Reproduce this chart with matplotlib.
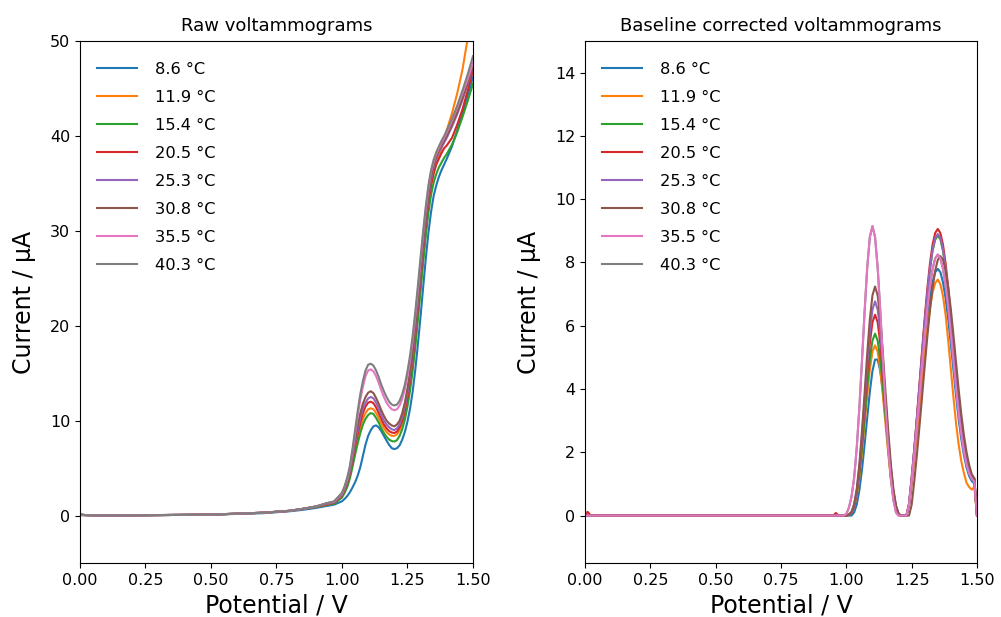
import matplotlib
matplotlib.use("Agg")
import matplotlib.pyplot as plt

# ---- data ----
temps = ["8.6 °C", "11.9 °C", "15.4 °C", "20.5 °C", "25.3 °C", "30.8 °C", "35.5 °C", "40.3 °C"]
colors = ["#1f77b4", "#ff7f0e", "#2ca02c", "#d62728", "#9467bd", "#8c564b", "#e377c2", "#7f7f7f"]

# raw voltammograms, potential in V, current in uA
pot_raw = [0.00, 0.02, 0.10, 0.30, 0.50, 0.70, 0.80, 0.85, 0.90, 0.94, 0.97,
           1.00, 1.01, 1.02, 1.03, 1.04, 1.05, 1.06, 1.07, 1.08, 1.09,
           1.10, 1.11, 1.12, 1.13, 1.14, 1.15, 1.16, 1.17, 1.18, 1.19,
           1.20, 1.21, 1.22, 1.23, 1.24, 1.25, 1.26, 1.27, 1.28, 1.29,
           1.30, 1.31, 1.32, 1.33, 1.34, 1.35, 1.36, 1.37, 1.38, 1.39,
           1.40, 1.42, 1.44, 1.46, 1.48, 1.50]
raw_86 = [0.05, 0.05, 0.0, 0.05, 0.1, 0.25, 0.45, 0.6, 0.8, 1.0, 1.15,
          1.5, 1.75, 2.05, 2.45, 2.95, 3.5, 4.2, 5.1, 6.3, 7.5,
          8.4, 9.0, 9.4, 9.5, 9.3, 8.9, 8.4, 7.9, 7.45, 7.1,
          7.0, 7.1, 7.4, 8.0, 8.8, 9.9, 11.3, 13.1, 15.4, 18.1,
          21.0, 24.1, 27.1, 29.8, 32.0, 33.7, 34.8, 35.7, 36.4, 37.0,
          37.6, 38.9, 40.6, 42.4, 44.3, 46.2]
raw_119 = [0.05, 0.05, 0.05, 0.05, 0.1, 0.3, 0.5, 0.7, 0.9, 1.1, 1.3,
           2.0, 2.5, 3.2, 4.1, 5.4, 6.8, 8.1, 9.3, 10.2, 10.8,
           11.2, 11.3, 11.2, 10.8, 10.3, 9.7, 9.2, 8.8, 8.55, 8.4,
           8.4, 8.55, 9.0, 9.7, 10.7, 12.1, 13.8, 15.9, 18.4, 21.3,
           24.3, 27.3, 30.1, 32.6, 34.6, 36.0, 37.1, 37.9, 38.7, 39.6,
           40.6, 42.4, 44.5, 47.0, 50.3, 53.5]
raw_154 = [0.05, 0.05, 0.0, 0.05, 0.1, 0.3, 0.5, 0.7, 0.9, 1.1, 1.25,
           1.9, 2.4, 3.0, 3.9, 5.1, 6.4, 7.6, 8.7, 9.6, 10.2,
           10.6, 10.8, 10.7, 10.3, 9.8, 9.2, 8.7, 8.3, 8.0, 7.85,
           7.8, 7.95, 8.4, 9.1, 10.1, 11.5, 13.2, 15.3, 17.8, 20.7,
           23.7, 26.7, 29.5, 31.9, 33.8, 35.1, 36.0, 36.7, 37.2, 37.7,
           38.1, 39.1, 40.4, 42.0, 43.7, 45.5]
raw_205 = [0.1, 0.05, 0.0, 0.05, 0.1, 0.3, 0.5, 0.7, 0.95, 1.15, 1.35,
           2.1, 2.7, 3.4, 4.4, 5.8, 7.3, 8.6, 9.8, 10.8, 11.5,
           11.9, 12.0, 11.85, 11.4, 10.8, 10.2, 9.6, 9.2, 8.9, 8.75,
           8.7, 8.85, 9.3, 10.0, 11.1, 12.5, 14.3, 16.5, 19.1, 22.0,
           25.0, 28.0, 30.8, 33.1, 34.9, 36.1, 37.0, 37.6, 38.2, 38.7,
           39.0, 39.8, 41.2, 42.8, 44.8, 46.9]
raw_253 = [0.1, 0.05, 0.0, 0.05, 0.1, 0.3, 0.5, 0.7, 0.95, 1.2, 1.4,
           2.2, 2.8, 3.6, 4.6, 6.1, 7.6, 9.0, 10.3, 11.3, 11.9,
           12.35, 12.5, 12.35, 11.9, 11.3, 10.6, 10.0, 9.6, 9.3, 9.1,
           9.0, 9.2, 9.6, 10.4, 11.5, 13.0, 14.8, 17.0, 19.6, 22.5,
           25.5, 28.5, 31.3, 33.6, 35.4, 36.7, 37.6, 38.3, 38.8, 39.3,
           39.8, 41.0, 42.3, 43.8, 45.5, 47.3]
raw_308 = [0.1, 0.05, 0.0, 0.05, 0.1, 0.3, 0.5, 0.7, 0.95, 1.25, 1.45,
           2.3, 2.9, 3.7, 4.8, 6.4, 8.0, 9.5, 10.8, 11.8, 12.5,
           12.95, 13.1, 12.9, 12.4, 11.8, 11.1, 10.5, 10.0, 9.7, 9.5,
           9.4, 9.6, 10.0, 10.8, 11.9, 13.4, 15.2, 17.4, 20.0, 22.9,
           25.9, 28.9, 31.6, 33.9, 35.7, 36.9, 37.8, 38.5, 39.0, 39.5,
           40.0, 41.2, 42.5, 44.0, 45.6, 47.4]
raw_355 = [0.1, 0.05, 0.0, 0.05, 0.1, 0.3, 0.5, 0.7, 0.95, 1.3, 1.45,
           2.3, 3.0, 3.8, 5.0, 6.7, 8.6, 10.5, 12.2, 13.6, 14.7,
           15.3, 15.4, 15.2, 14.7, 14.0, 13.2, 12.5, 11.9, 11.5, 11.2,
           11.1, 11.2, 11.6, 12.3, 13.3, 14.7, 16.4, 18.5, 21.0, 23.8,
           26.8, 29.7, 32.3, 34.5, 36.2, 37.3, 38.1, 38.7, 39.3, 39.8,
           40.4, 41.6, 43.0, 44.5, 46.0, 47.7]
raw_403 = [0.15, 0.05, 0.0, 0.05, 0.1, 0.3, 0.5, 0.7, 0.95, 1.3, 1.5,
           2.4, 3.1, 4.0, 5.2, 7.0, 9.0, 11.0, 12.8, 14.2, 15.3,
           15.9, 16.0, 15.8, 15.3, 14.6, 13.8, 13.1, 12.5, 12.0, 11.7,
           11.6, 11.7, 12.1, 12.8, 13.8, 15.2, 16.9, 19.0, 21.5, 24.3,
           27.2, 30.0, 32.6, 34.8, 36.4, 37.5, 38.3, 38.9, 39.5, 40.0,
           40.6, 41.8, 43.2, 44.8, 46.5, 48.4]

# baseline corrected voltammograms
pot_bc = [0.00, 0.01, 0.02, 0.04, 0.10, 0.50, 0.90, 0.95, 0.96, 0.97,
          0.98, 0.99, 1.00, 1.01, 1.02, 1.03, 1.04, 1.05, 1.06, 1.07,
          1.08, 1.09, 1.10, 1.11, 1.12, 1.13, 1.14, 1.15, 1.16, 1.17,
          1.18, 1.19, 1.20, 1.21, 1.22, 1.23, 1.24, 1.25, 1.26, 1.27,
          1.28, 1.29, 1.30, 1.31, 1.32, 1.33, 1.34, 1.35, 1.36, 1.37,
          1.38, 1.39, 1.40, 1.41, 1.42, 1.43, 1.44, 1.45, 1.46, 1.47,
          1.48, 1.49, 1.50]
bc_86 = [0, 0, 0, 0, 0, 0, 0, 0, 0, 0,
         0, 0, 0, 0, 0, 0.10, 0.35, 0.80, 1.45, 2.25,
         3.10, 3.91, 4.57, 4.93, 4.93, 4.57, 3.91, 3.10, 2.28, 1.50,
         0.75, 0.30, 0.05, 0, 0, 0, 0.32, 1.03, 1.82, 2.68,
         3.58, 4.50, 5.37, 6.17, 6.85, 7.37, 7.69, 7.80, 7.69, 7.37,
         6.86, 6.20, 5.42, 4.60, 3.78, 3.04, 2.42, 1.91, 1.52, 1.25,
         1.09, 1.01, 0]
bc_119 = [0, 0, 0, 0, 0, 0, 0, 0, 0, 0,
          0, 0, 0, 0.02, 0.08, 0.28, 0.62, 1.20, 1.98, 2.88,
          3.80, 4.61, 5.18, 5.38, 5.18, 4.61, 3.80, 2.90, 2.00, 1.20,
          0.60, 0.20, 0.02, 0, 0, 0, 0.31, 0.98, 1.74, 2.56,
          3.43, 4.30, 5.14, 5.90, 6.55, 7.05, 7.35, 7.46, 7.31, 6.94,
          6.34, 5.52, 4.63, 3.73, 2.91, 2.24, 1.72, 1.34, 1.04, 0.90,
          0.82, 0.90, 0]
bc_154 = [0, 0, 0, 0, 0, 0, 0, 0, 0, 0,
          0, 0, 0, 0.02, 0.08, 0.30, 0.68, 1.30, 2.12, 3.08,
          4.07, 4.93, 5.53, 5.75, 5.53, 4.93, 4.07, 3.10, 2.15, 1.30,
          0.65, 0.22, 0.03, 0, 0, 0, 0.36, 1.17, 2.06, 3.04,
          4.07, 5.10, 6.10, 7.00, 7.77, 8.36, 8.72, 8.85, 8.73, 8.36,
          7.79, 7.04, 6.15, 5.22, 4.29, 3.45, 2.74, 2.17, 1.73, 1.42,
          1.24, 1.15, 0]
bc_205 = [0.0, 0.12, 0.02, 0, 0, 0, 0, 0, 0.08, 0,
          0, 0, 0, 0.02, 0.08, 0.30, 0.72, 1.42, 2.34, 3.40,
          4.49, 5.44, 6.11, 6.35, 6.11, 5.44, 4.49, 3.42, 2.38, 1.45,
          0.72, 0.25, 0.04, 0, 0, 0, 0.37, 1.19, 2.11, 3.11,
          4.16, 5.22, 6.24, 7.17, 7.96, 8.56, 8.93, 9.06, 8.93, 8.56,
          7.97, 7.20, 6.30, 5.35, 4.39, 3.53, 2.81, 2.22, 1.77, 1.45,
          1.27, 1.18, 0]
bc_253 = [0, 0, 0, 0, 0, 0, 0, 0, 0, 0,
          0, 0, 0, 0.03, 0.10, 0.33, 0.78, 1.52, 2.50, 3.62,
          4.79, 5.80, 6.51, 6.77, 6.51, 5.80, 4.79, 3.65, 2.55, 1.55,
          0.78, 0.28, 0.05, 0, 0, 0, 0.36, 1.17, 2.08, 3.06,
          4.09, 5.13, 6.13, 7.04, 7.82, 8.41, 8.77, 8.90, 8.78, 8.41,
          7.83, 7.08, 6.19, 5.25, 4.32, 3.47, 2.76, 2.18, 1.74, 1.42,
          1.25, 1.16, 0]
bc_308 = [0, 0, 0, 0, 0, 0, 0, 0, 0, 0,
          0, 0, 0, 0.04, 0.12, 0.37, 0.85, 1.63, 2.68, 3.87,
          5.12, 6.20, 6.96, 7.24, 6.96, 6.20, 5.12, 3.90, 2.72, 1.66,
          0.85, 0.32, 0.06, 0, 0, 0, 0, 0.34, 1.08, 1.91,
          2.82, 3.77, 4.73, 5.65, 6.49, 7.20, 7.74, 8.08, 8.20, 8.09,
          7.75, 7.22, 6.52, 5.70, 4.84, 3.98, 3.20, 2.54, 2.01, 1.60,
          1.31, 1.15, 0]
bc_355 = [0, 0, 0, 0, 0, 0, 0, 0, 0, 0,
          0, 0, 0.05, 0.25, 0.60, 1.20, 2.15, 3.42, 4.90, 6.45,
          7.84, 8.80, 9.15, 8.80, 7.84, 6.47, 4.93, 3.45, 2.15, 1.20,
          0.50, 0.10, 0, 0, 0, 0, 0.34, 1.09, 1.92, 2.84,
          3.79, 4.75, 5.68, 6.53, 7.25, 7.79, 8.13, 8.25, 8.13, 7.80,
          7.26, 6.56, 5.73, 4.87, 4.00, 3.22, 2.56, 2.02, 1.61, 1.32,
          1.16, 1.07, 0]
# the 40.3 degree trace is not visible in the corrected panel: it lies under the 35.5 trace
bc_403 = list(bc_355)

raw_all = [raw_86, raw_119, raw_154, raw_205, raw_253, raw_308, raw_355, raw_403]
bc_all = [bc_86, bc_119, bc_154, bc_205, bc_253, bc_308, bc_355, bc_403]

fig = plt.figure(figsize=(10.01, 6.17), dpi=100)
ax1 = fig.add_axes([0.0799, 0.0875, 0.3926, 0.846])
ax2 = fig.add_axes([0.5844, 0.0875, 0.3916, 0.846])

for i in range(8):
    ax1.plot(pot_raw, raw_all[i], color=colors[i], lw=1.5, label=temps[i])
    z = 1.5 if i == 7 else 2
    ax2.plot(pot_bc, bc_all[i], color=colors[i], lw=1.5, label=temps[i], zorder=z)

ax1.set_xlim(0, 1.5)
ax1.set_ylim(-5, 50)
ax2.set_xlim(0, 1.5)
ax2.set_ylim(-1.5, 15)
ax2.set_yticks(range(0, 15, 2))

for ax, title in [(ax1, "Raw voltammograms"), (ax2, "Baseline corrected voltammograms")]:
    ax.set_xticks([0, 0.25, 0.5, 0.75, 1.0, 1.25, 1.5])
    ax.set_xlabel("Potential / V", fontsize=17, labelpad=4)
    ax.set_ylabel("Current / µA", fontsize=17, labelpad=10)
    ax.set_title(title, fontsize=13, pad=7)
    ax.tick_params(labelsize=11.5)
    ax.legend(loc="upper left", bbox_to_anchor=(0.005, 0.9885), frameon=False,
              fontsize=11.7, handlelength=2.5, handletextpad=1.1, labelspacing=0.8,
              borderaxespad=0.5)

fig.savefig("out.png", dpi=100)
